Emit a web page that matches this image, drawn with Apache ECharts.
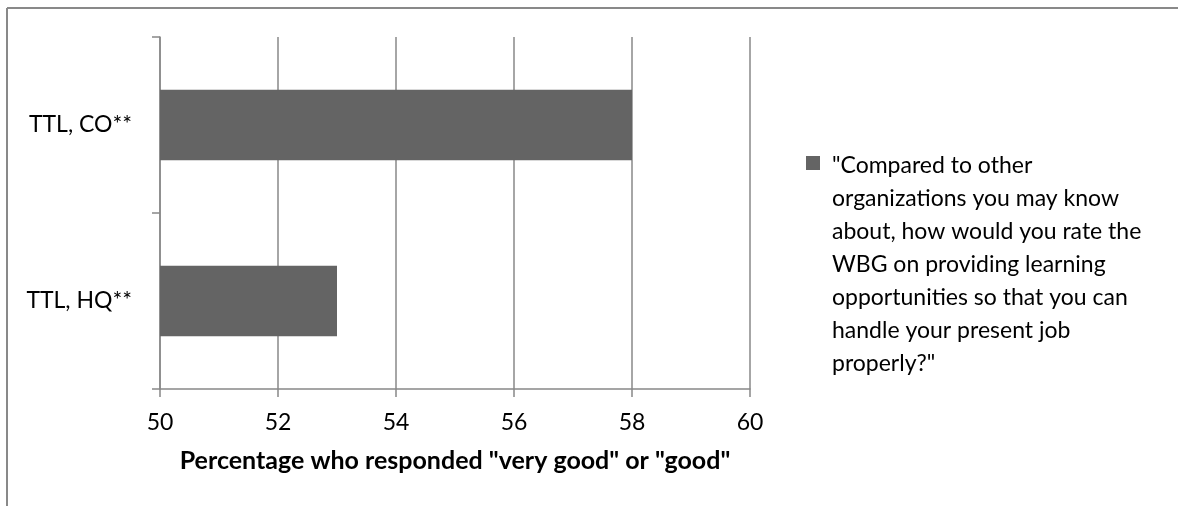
<!DOCTYPE html>
<html>
<head>
<meta charset="utf-8">
<script src="https://cdn.jsdelivr.net/npm/echarts@6/dist/echarts.min.js"></script>
<style>
html,body{margin:0;padding:0;background:#fff;}
#c{width:1178px;height:506px;}
</style>
</head>
<body>
<div id="c"></div>
<script>
const categories = ['TTL, HQ**', 'TTL, CO**'];
const values = [53, 58];
const seriesName = '"Compared to other organizations you may know about, how would you rate the WBG on providing learning opportunities so that you can handle your present job properly?"';
const legendLines = ['"Compared to other', 'organizations you may know', 'about, how would you rate the', 'WBG on providing learning', 'opportunities so that you can', 'handle your present job', 'properly?"'];
const xTicks = {min: 50, max: 60, interval: 2};
const xTitle = 'Percentage who responded "very good" or "good"';

const FONT = 'Lato';
const chart = echarts.init(document.getElementById('c'));
chart.setOption({
  animation: false,
  backgroundColor: '#fff',
  textStyle: {fontFamily: FONT},
  grid: {left: 160, right: 428, top: 37, bottom: 117},
  graphic: [
    {type: 'line', shape: {x1: 7, y1: 8, x2: 1178, y2: 8}, style: {stroke: '#898989', lineWidth: 2}},
    {type: 'line', shape: {x1: 7, y1: 8, x2: 7, y2: 506}, style: {stroke: '#898989', lineWidth: 2}}
  ],
  legend: {
    left: 806, top: 149, padding: 0,
    orient: 'vertical',
    itemWidth: 14, itemHeight: 231,
    icon: 'path://M0,7 L14,7 L14,21 L0,21 Z M0,0 L0.001,0 Z M0,231 L0.001,231 Z',
    formatter: () => legendLines.join('\n'),
    textStyle: {fontFamily: FONT, fontSize: 23, color: '#000', lineHeight: 33, padding: [0, 0, 0, 7]},
    data: [seriesName]
  },
  xAxis: {
    type: 'value', min: xTicks.min, max: xTicks.max, interval: xTicks.interval,
    axisLine: {show: true, lineStyle: {color: '#888', width: 1.5}},
    axisTick: {show: true, length: 8, lineStyle: {color: '#888', width: 1.5}},
    splitLine: {show: true, lineStyle: {color: '#888', width: 1.5}},
    axisLabel: {color: '#000', fontSize: 23, margin: 22, fontFamily: FONT},
    name: xTitle, nameLocation: 'middle', nameGap: 59,
    nameTextStyle: {color: '#000', fontSize: 25, fontWeight: 'bold', fontFamily: FONT}
  },
  yAxis: {
    type: 'category', data: categories,
    axisLine: {show: true, lineStyle: {color: '#888', width: 1.5}},
    axisTick: {show: true, length: 8, lineStyle: {color: '#888', width: 1.5}},
    splitLine: {show: false},
    axisLabel: {color: '#000', fontSize: 23, margin: 28, fontFamily: FONT}
  },
  series: [{
    name: seriesName, type: 'bar', data: values,
    barCategoryGap: '60%',
    itemStyle: {color: '#646464'}
  }]
});
</script>
</body>
</html>
